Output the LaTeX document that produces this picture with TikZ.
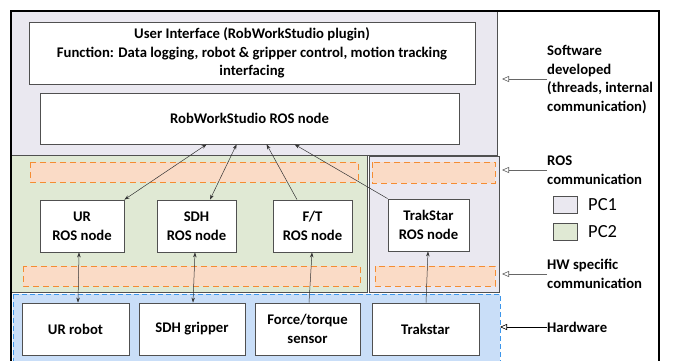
\documentclass[tikz,border=0pt]{standalone}
\usepackage{fontspec}
\setmainfont{Carlito}
\usetikzlibrary{arrows.meta}
\definecolor{pcone}{RGB}{234,232,240}
\definecolor{pctwo}{RGB}{224,233,212}
\definecolor{orfill}{RGB}{250,219,198}
\definecolor{ordraw}{RGB}{245,140,50}
\definecolor{blfill}{RGB}{201,222,248}
\definecolor{bldraw}{RGB}{60,150,235}
\definecolor{edge}{RGB}{80,80,80}
\tikzset{
  box/.style={draw=edge, fill=white, line width=0.8pt, inner sep=0pt, align=center, font=\bfseries\fontsize{14.7}{18.7}\selectfont},
  region/.style={draw=edge, line width=0.8pt},
  orbox/.style={draw=ordraw, fill=orfill, dash pattern=on 6pt off 4pt, line width=0.9pt},
  conn/.style={line width=0.5pt, black!80},
  tip/.style={-{Stealth[length=5pt,width=3.5pt]}},
  tips/.style={{Stealth[length=5pt,width=3.5pt]}-{Stealth[length=5pt,width=3.5pt]}},
  lab/.style={anchor=west, align=left, inner sep=0pt, font=\bfseries\fontsize{14.7}{18.8}\selectfont},
  labarrow/.style={draw=black!60, line width=0.6pt, -{Triangle[open,length=7pt,width=6pt]}},
  legbox/.style={draw=edge, line width=0.6pt, minimum width=24pt, minimum height=17pt, inner sep=0pt},
  legtext/.style={anchor=west, inner sep=0pt, font=\fontsize{18.5}{21}\selectfont}
}
\begin{document}
\begin{tikzpicture}[x=1pt,y=-1pt]
\useasboundingbox (0,0) rectangle (680,361);
% regions
\fill[white] (0,0) rectangle (680,361);
\filldraw[region, fill=pcone] (11,11) rectangle (497,155);
\filldraw[region, fill=pctwo] (11,155) rectangle (367,292);
\filldraw[region, fill=pcone] (369,156) rectangle (499,292);
\filldraw[fill=blfill, draw=bldraw, dash pattern=on 5pt off 3pt, line width=0.8pt] (13,294) rectangle (500,366);
\draw[orbox] (30,162) rectangle (358,182);
\draw[orbox] (23,266) rectangle (360,286);
\draw[orbox] (372,162) rectangle (495,183);
\draw[orbox] (375,266) rectangle (495,286);
\draw[line width=1.4pt] (11,366) -- (11,11) -- (659,11) -- (659,366);
% nodes
\node[box, minimum width=446pt, minimum height=62pt] (ui) at (252,53)
  {User Interface (RobWorkStudio plugin)\\Function: Data logging, robot \& gripper control, motion tracking\\interfacing};
\node[box, minimum width=419pt, minimum height=51pt] (rws) at (249.5,118.5) {RobWorkStudio ROS node};
\node[box, minimum width=84pt, minimum height=52pt] (ur) at (82,226) {UR\\ROS node};
\node[box, minimum width=79pt, minimum height=52pt] (sdh) at (196.5,226) {SDH\\ROS node};
\node[box, minimum width=79pt, minimum height=52pt] (ft) at (312.5,226) {F/T\\ROS node};
\node[box, minimum width=81pt, minimum height=52pt] (trak) at (428.5,225) {TrakStar\\ROS node};
\node[box, minimum width=107pt, minimum height=52pt] (urr) at (75.5,329) {UR robot};
\node[box, minimum width=106pt, minimum height=52pt] (sdhg) at (192,329) {SDH gripper};
\node[box, minimum width=105pt, minimum height=52pt] (fts) at (307.5,329) {Force/torque\\sensor};
\node[box, minimum width=107pt, minimum height=52pt] (trs) at (425.5,329) {Trakstar};
% connectors
\draw[conn, tips] ([xshift=167pt]rws.south west) -- (ur.north east);
\draw[conn, tips] ([xshift=197pt]rws.south west) -- ([xshift=13.5pt]sdh.north);
\draw[conn, tip] ([xshift=-15.5pt]ft.north) -- ([xshift=227pt]rws.south west);
\draw[conn, tip] (trak.north west) -- ([xshift=255pt]rws.south west);
\draw[conn, tips] ([xshift=-3pt]ur.south) -- ([xshift=2.5pt]urr.north);
\draw[conn, tips] ([xshift=-1.5pt]sdh.south) -- ([xshift=1pt]sdhg.north);
\draw[conn, tip] ([xshift=1.5pt]fts.north) -- ([xshift=-0.5pt]ft.south);
\draw[conn, tip] ([xshift=0.5pt]trs.north) -- ([xshift=-0.5pt]trak.south);
% labels
\node[lab] (l1) at (547,79.5) {Software\\developed\\(threads, internal\\communication)};
\node[lab] (l2) at (547,170) {ROS\\communication};
\node[lab] (l3) at (547,273.5) {HW specific\\communication};
\node[lab] (l4) at (547,327) {Hardware};
\coordinate (a1) at (502,79);
\coordinate (a2) at (502,170);
\coordinate (a3) at (502,274);
\coordinate (a4) at (500,327);
\draw[labarrow] (l1.west |- a1) -- (a1);
\draw[labarrow] (l2.west |- a2) -- (a2);
\draw[labarrow] (l3.west |- a3) -- (a3);
\draw[labarrow, draw=black] (l4.west |- a4) -- (a4);
% legend
\node[legbox, fill=pcone] (k1) at (565,205) {};
\node[legbox, fill=pctwo] (k2) at (565,231.5) {};
\node[legtext] (t1) at (588,205) {PC1};
\node[legtext] (t2) at (588,231.5) {PC2};
\end{tikzpicture}
\end{document}
